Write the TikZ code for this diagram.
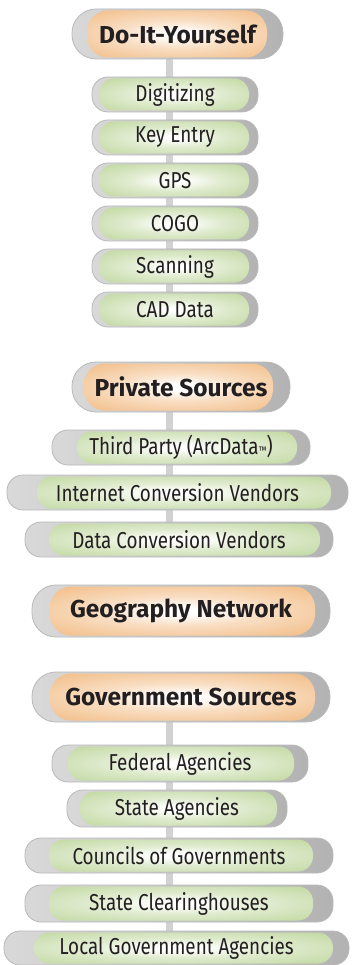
\documentclass[tikz,border=0pt]{standalone}
\usepackage{fontspec}
\setmainfont{Fira Sans}
\newfontfamily\itemfont[FakeStretch=0.82]{Fira Sans}
\usetikzlibrary{backgrounds}
\definecolor{pgreen}{RGB}{186,212,150}
\definecolor{porange}{RGB}{241,182,122}
\definecolor{txt}{RGB}{35,31,32}
\pgfdeclareradialshading{glowgreen}{\pgfpoint{0bp}{0bp}}{%
  color(0bp)=(white); color(3bp)=(white); color(14bp)=(pgreen!45!white);
  color(30bp)=(pgreen!85!white); color(42bp)=(pgreen); color(75bp)=(pgreen)}
\pgfdeclareradialshading{gloworange}{\pgfpoint{0bp}{0bp}}{%
  color(0bp)=(white); color(3bp)=(white); color(14bp)=(porange!45!white);
  color(30bp)=(porange!85!white); color(42bp)=(porange); color(75bp)=(porange)}
\pgfkeys{/pill/.is family,
  /pill/l/.initial=10, /pill/r/.initial=12,
  /pill/rad/.initial=14, /pill/sh/.initial=glowgreen}
\tikzset{
  pillbase/.style={draw=gray!55, line width=0.8pt, inner sep=0pt,
    left color=gray!30, middle color=gray!5, right color=gray!60,
    text=txt,
    path picture={
      \shade[shading=\pgfkeysvalueof{/pill/sh},
             rounded corners=\pgfkeysvalueof{/pill/rad}pt]
        ([xshift=\pgfkeysvalueof{/pill/l}pt, yshift=-1.5pt]path picture bounding box.north west)
        rectangle
        ([xshift=-\pgfkeysvalueof{/pill/r}pt, yshift=1.5pt]path picture bounding box.south east);
    }},
  header/.style={pillbase, rounded corners=24pt, minimum height=50pt,
    /pill/sh=gloworange, /pill/rad=21, /pill/l=15, /pill/r=16,
    font=\fontsize{24.5}{24.5}\selectfont\bfseries},
  item/.style={pillbase, rounded corners=16pt, minimum height=35pt,
    /pill/sh=glowgreen, /pill/rad=15,
    font=\itemfont\fontsize{23}{23}\selectfont},
  bar/.style={line width=7pt, draw=gray!35}
}
\begin{document}
\begin{tikzpicture}[x=1pt, y=-1pt]
\useasboundingbox (0,0) rectangle (351,965);
\coordinate (bx) at (169,0);
% Do-It-Yourself group
\node[header, minimum width=211pt] (diy) at (177.5,34) {Do-It-Yourself};
\node[item, minimum width=166pt, /pill/l=7, /pill/r=9] (dig) at (175,94.5) {Digitizing};
\node[item, minimum width=166pt, /pill/l=7, /pill/r=9] (key) at (175,137.5) {Key Entry};
\node[item, minimum width=166pt, /pill/l=7, /pill/r=9] (gps) at (175,180.5) {GPS};
\node[item, minimum width=166pt, /pill/l=7, /pill/r=9] (cogo) at (175,223.5) {COGO};
\node[item, minimum width=166pt, /pill/l=7, /pill/r=9] (scan) at (175,266.5) {Scanning};
\node[item, minimum width=166pt, /pill/l=7, /pill/r=9] (cad) at (175,309.5) {CAD Data};
% Private sources group
\node[header, minimum width=218pt, /pill/l=12, /pill/r=17] (priv) at (181,387) {Private Sources};
\node[item, minimum width=258pt, /pill/l=25, /pill/r=13] (third) at (181,447.5) {Third Party (ArcData{\fontsize{11}{11}\selectfont ™})};
\node[item, minimum width=341pt, /pill/l=30, /pill/r=17] (inet) at (177.5,492.5) {Internet Conversion Vendors};
\node[item, minimum width=308pt, /pill/l=24, /pill/r=13] (dconv) at (179,539.5) {Data Conversion Vendors};
% Geography network
\node[header, minimum width=298pt, minimum height=52pt, /pill/l=18, /pill/r=15] (geo) at (181,611) {Geography Network};
% Government sources group
\node[header, minimum width=298pt, /pill/l=18, /pill/r=15] (gov) at (181,697) {Government Sources};
\node[item, minimum width=256pt, minimum height=37pt, /pill/l=16, /pill/r=14] (fed) at (180,763.5) {Federal Agencies};
\node[item, minimum width=220pt, minimum height=37pt, /pill/l=13, /pill/r=10] (sta) at (177,808.5) {State Agencies};
\node[item, minimum width=308pt, /pill/l=24, /pill/r=20] (cog) at (179,855.5) {Councils of Governments};
\node[item, minimum width=308pt, minimum height=37pt, /pill/l=24, /pill/r=20] (sch) at (179,903.5) {State Clearinghouses};
\node[item, minimum width=345pt, minimum height=34pt, /pill/l=30, /pill/r=16] (loc) at (176.5,948) {Local Government Agencies};
\begin{scope}[on background layer]
\draw[bar] (diy.south -| bx) -- (dig.north -| bx);
\draw[bar] (dig.south -| bx) -- (key.north -| bx);
\draw[bar] (key.south -| bx) -- (gps.north -| bx);
\draw[bar] (gps.south -| bx) -- (cogo.north -| bx);
\draw[bar] (cogo.south -| bx) -- (scan.north -| bx);
\draw[bar] (scan.south -| bx) -- (cad.north -| bx);
\draw[bar] (priv.south -| bx) -- (third.north -| bx);
\draw[bar] (third.south -| bx) -- (inet.north -| bx);
\draw[bar] (inet.south -| bx) -- (dconv.north -| bx);
\draw[bar] (gov.south -| bx) -- (fed.north -| bx);
\draw[bar] (fed.south -| bx) -- (sta.north -| bx);
\draw[bar] (sta.south -| bx) -- (cog.north -| bx);
\draw[bar] (cog.south -| bx) -- (sch.north -| bx);
\draw[bar] (sch.south -| bx) -- (loc.north -| bx);
\end{scope}
\end{tikzpicture}
\end{document}
